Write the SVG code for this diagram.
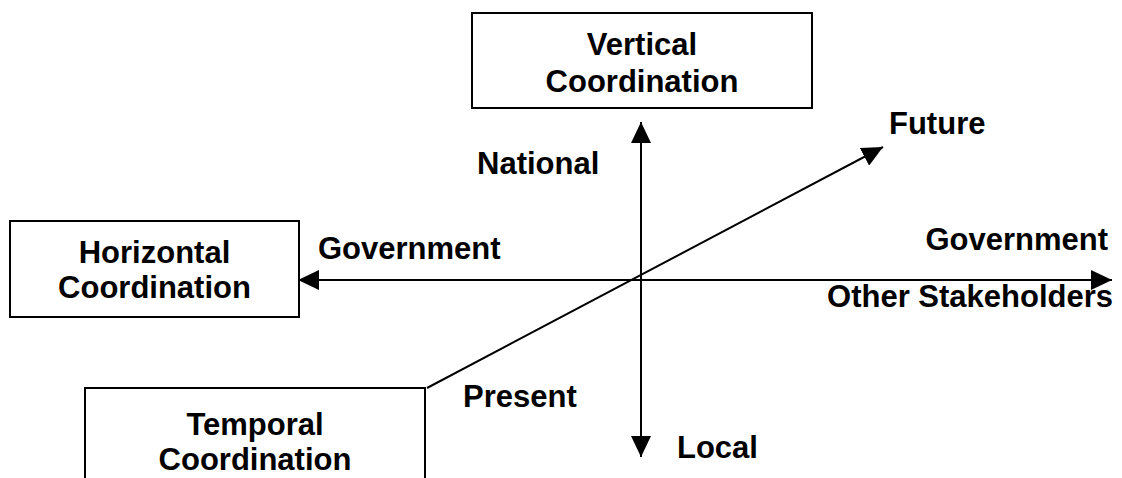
<svg xmlns="http://www.w3.org/2000/svg" width="1122" height="478" viewBox="0 0 1122 478">
<style>
.box{fill:#fff;stroke:#000;stroke-width:2}
.t{font-family:"Liberation Sans",Arial,sans-serif;font-weight:bold;font-size:31px;fill:#000}
.c{text-anchor:middle}
.e{text-anchor:end}
.ax{stroke:#000;stroke-width:2;fill:none}
</style>
<defs>
<marker id="arr" viewBox="0 0 21 20" refX="21" refY="10" markerWidth="21" markerHeight="20" markerUnits="userSpaceOnUse" orient="auto-start-reverse">
<path d="M0,0 L21,10 L0,20 Z" fill="#000"/>
</marker>
</defs>
<rect width="1122" height="478" fill="#fff"/>
<g id="connectors">
<line class="ax" x1="641" y1="457" x2="641" y2="122" marker-start="url(#arr)" marker-end="url(#arr)"/>
<line class="ax" x1="298" y1="280" x2="1112" y2="280" marker-start="url(#arr)" marker-end="url(#arr)"/>
<line class="ax" x1="427" y1="388" x2="883" y2="147" marker-end="url(#arr)"/>
</g>
<g id="vertical">
<rect class="box" x="472" y="13" width="340" height="95"/>
<text class="t c" x="642" y="55">Vertical</text>
<text class="t c" x="642" y="92">Coordination</text>
</g>
<g id="horizontal">
<rect class="box" x="10" y="221" width="289" height="96"/>
<text class="t c" x="154.5" y="263">Horizontal</text>
<text class="t c" x="154.5" y="298">Coordination</text>
</g>
<g id="temporal">
<rect class="box" x="85" y="388" width="340" height="110"/>
<text class="t c" x="255" y="435">Temporal</text>
<text class="t c" x="255" y="470">Coordination</text>
</g>
<g id="labels">
<text class="t" x="477" y="174">National</text>
<text class="t" x="318" y="259">Government</text>
<text class="t e" x="1108" y="250">Government</text>
<text class="t e" x="1113" y="307">Other Stakeholders</text>
<text class="t" x="889" y="134">Future</text>
<text class="t" x="463" y="407">Present</text>
<text class="t" x="677" y="458">Local</text>
</g>
</svg>
